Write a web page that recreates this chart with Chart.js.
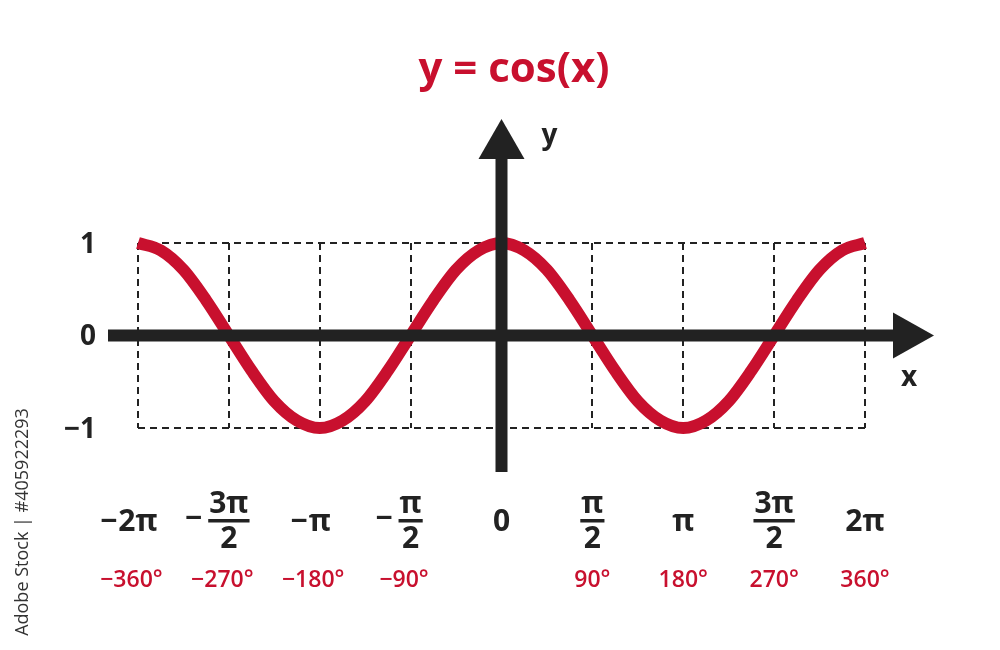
<!DOCTYPE html>
<html>
<head>
<meta charset="utf-8">
<title>y = cos(x)</title>
<script src="https://cdn.jsdelivr.net/npm/chart.js@4/dist/chart.umd.min.js"></script>
<style>
  html, body { margin: 0; background: #fff; }
  canvas { display: block; }
</style>
</head>
<body>
<canvas id="cosChart" width="1000" height="650"></canvas>
<script>
// curve samples (x in degrees)
const degrees = [-360, -337.5, -315, -292.5, -270, -247.5, -225, -202.5, -180,
                 -157.5, -135, -112.5, -90, -67.5, -45, -22.5, 0,
                 22.5, 45, 67.5, 90, 112.5, 135, 157.5, 180,
                 202.5, 225, 247.5, 270, 292.5, 315, 337.5, 360];
const cosValues = [1, 0.92, 0.71, 0.38, 0, -0.38, -0.71, -0.92, -1,
                   -0.92, -0.71, -0.38, 0, 0.38, 0.71, 0.92, 1,
                   0.92, 0.71, 0.38, 0, -0.38, -0.71, -0.92, -1,
                   -0.92, -0.71, -0.38, 0, 0.38, 0.71, 0.92, 1];

// tick labels along x
const tickDegrees = [-360, -270, -180, -90, 0, 90, 180, 270, 360];
const tickSigns = ['−', '−', '−', '−', '', '', '', '', ''];
const tickNumerators = ['2π', '3π', 'π', 'π', '0', 'π', 'π', '3π', '2π'];
const tickDenominators = ['', '2', '', '2', '', '2', '', '2', ''];
const degreeLabels = ['−360°', '−270°', '−180°', '−90°', '', '90°', '180°', '270°', '360°'];

// tick labels along y
const yTickValues = [1, 0, -1];
const yTickLabels = ['1', '0', '−1'];

const titleText = 'y = cos(x)';
const RED = '#c8102e';
const INK = '#222222';
const FONT = '"Open Sans", "DejaVu Sans", sans-serif';

// everything that is not the curve: grid boxes, arrows, labels
const axesPlugin = {
    id: 'arrowAxes',
    beforeDatasetsDraw(chart) {
        const c = chart.ctx;
        const xs = chart.scales.x, ys = chart.scales.y;
        const top = ys.getPixelForValue(1), bottom = ys.getPixelForValue(-1);
        c.save();
        c.strokeStyle = INK;
        c.lineWidth = 2;
        c.setLineDash([7, 5]);
        c.beginPath();
        c.moveTo(xs.getPixelForValue(-360), top);
        c.lineTo(xs.getPixelForValue(360), top);
        c.moveTo(xs.getPixelForValue(-360), bottom);
        c.lineTo(xs.getPixelForValue(360), bottom);
        tickDegrees.forEach(d => {
            const px = Math.round(xs.getPixelForValue(d));
            c.moveTo(px, top);
            c.lineTo(px, bottom);
        });
        c.stroke();
        c.restore();
    },
    afterDatasetsDraw(chart) {
        const c = chart.ctx;
        const xs = chart.scales.x, ys = chart.scales.y;
        const x0 = xs.getPixelForValue(0), y0 = ys.getPixelForValue(0);
        const xLeft = xs.getPixelForValue(-360), xRight = xs.getPixelForValue(360);
        c.save();
        c.fillStyle = INK;

        // x axis with arrow
        c.fillRect(xLeft - 30, y0 - 6, (xRight + 30) - (xLeft - 30), 12);
        c.beginPath();
        c.moveTo(xRight + 28, y0 - 23);
        c.lineTo(xRight + 69, y0);
        c.lineTo(xRight + 28, y0 + 23);
        c.closePath();
        c.fill();

        // y axis with arrow
        c.fillRect(x0 - 6, 155, 12, 472 - 155);
        c.beginPath();
        c.moveTo(x0 - 23, 159);
        c.lineTo(x0, 119);
        c.lineTo(x0 + 23, 159);
        c.closePath();
        c.fill();

        // axis names
        c.font = 'bold 28px ' + FONT;
        c.textAlign = 'center';
        c.textBaseline = 'middle';
        c.fillText('y', x0 + 48, 136);
        c.fillText('x', xRight + 44, 378);

        // y tick labels
        c.textAlign = 'right';
        yTickValues.forEach((v, i) => {
            c.fillText(yTickLabels[i], 96, ys.getPixelForValue(v) + 2);
        });

        // x tick labels in π
        c.font = 'bold 30px ' + FONT;
        tickDegrees.forEach((d, i) => {
            const px = xs.getPixelForValue(d);
            const num = tickNumerators[i], den = tickDenominators[i], sign = tickSigns[i];
            c.textAlign = 'center';
            if (den) {
                const w = Math.max(c.measureText(num).width, c.measureText(den).width) + 2;
                c.fillText(num, px, 504);
                c.fillRect(px - w / 2, 519, w, 3.5);
                c.fillText(den, px, 539);
                if (sign) {
                    c.textAlign = 'right';
                    c.fillText(sign, px - w / 2 - 6, 519);
                }
            } else {
                c.fillText(num, px, 522);
                if (sign) {
                    c.textAlign = 'right';
                    c.fillText(sign, px - c.measureText(num).width / 2 - 1, 522);
                }
            }
        });

        // degree labels
        c.fillStyle = RED;
        c.font = '600 23px ' + FONT;
        c.textAlign = 'center';
        tickDegrees.forEach((d, i) => {
            const label = degreeLabels[i];
            if (!label) return;
            let px = xs.getPixelForValue(d);
            if (label.startsWith('−')) px -= c.measureText('−').width / 2;
            c.fillText(label, px, 580);
        });

        // title
        c.font = 'bold 42px ' + FONT;
        c.fillText(titleText, 514, 70);

        // side credit
        c.fillStyle = '#333333';
        c.font = '18px ' + FONT;
        c.translate(23, 522);
        c.rotate(-Math.PI / 2);
        c.fillText('Adobe Stock | #405922293', 0, 0);
        c.restore();
    }
};

const ctx = document.getElementById('cosChart').getContext('2d');
const chart = new Chart(ctx, {
    type: 'line',
    data: {
        datasets: [{
            label: 'cos(x)',
            data: degrees.map((d, i) => ({ x: d, y: cosValues[i] })),
            borderColor: RED,
            borderWidth: 12,
            borderCapStyle: 'butt',
            pointRadius: 0,
            cubicInterpolationMode: 'monotone',
            fill: false,
            clip: false
        }]
    },
    options: {
        responsive: false,
        animation: false,
        layout: {
            padding: { left: 138, right: 135, top: 243, bottom: 222 }
        },
        scales: {
            x: { type: 'linear', min: -360, max: 360, display: false },
            y: { min: -1, max: 1, display: false }
        },
        plugins: {
            legend: { display: false },
            tooltip: { enabled: false }
        }
    },
    plugins: [axesPlugin]
});
</script>
</body>
</html>
